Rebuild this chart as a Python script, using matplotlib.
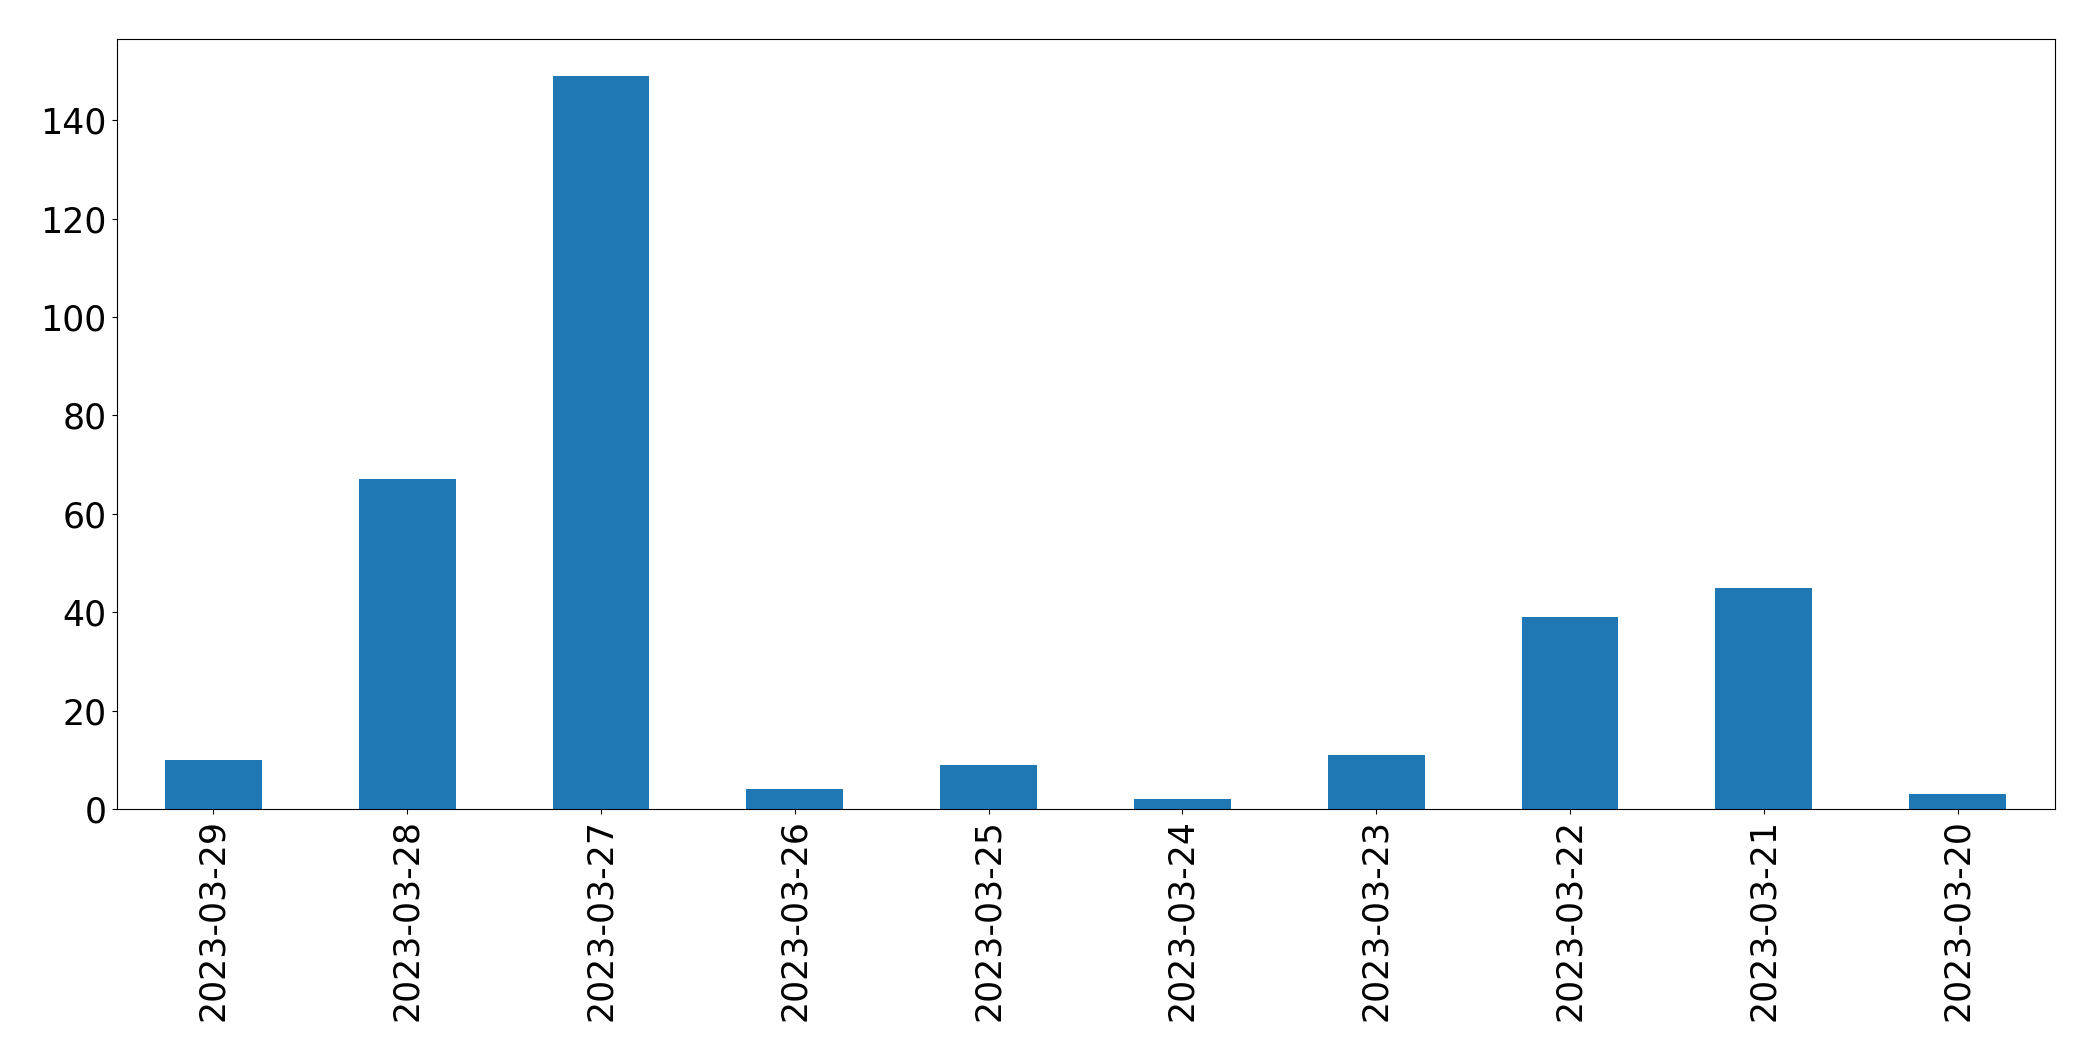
import pandas as pd
import matplotlib.pyplot as plt

dates = ['2023-03-29', '2023-03-28', '2023-03-27', '2023-03-26', '2023-03-25',
         '2023-03-24', '2023-03-23', '2023-03-22', '2023-03-21', '2023-03-20']
counts = [10, 67, 149, 4, 9, 2, 11, 39, 45, 3]

s = pd.Series(counts, index=dates)

fig = plt.figure(figsize=(20.93, 10.61), dpi=100)
# axes box placed to match the reference image
ax = fig.add_axes([116.5 / 2093, 1 - 809 / 1061, (2054.5 - 116.5) / 2093, (809 - 39.3) / 1061])
s.plot(kind='bar', ax=ax, color='#1f77b4')
ax.tick_params(axis='x', labelsize=25, rotation=90)
ax.tick_params(axis='y', labelsize=25)
plt.savefig('out.png', dpi=100)
plt.close()
